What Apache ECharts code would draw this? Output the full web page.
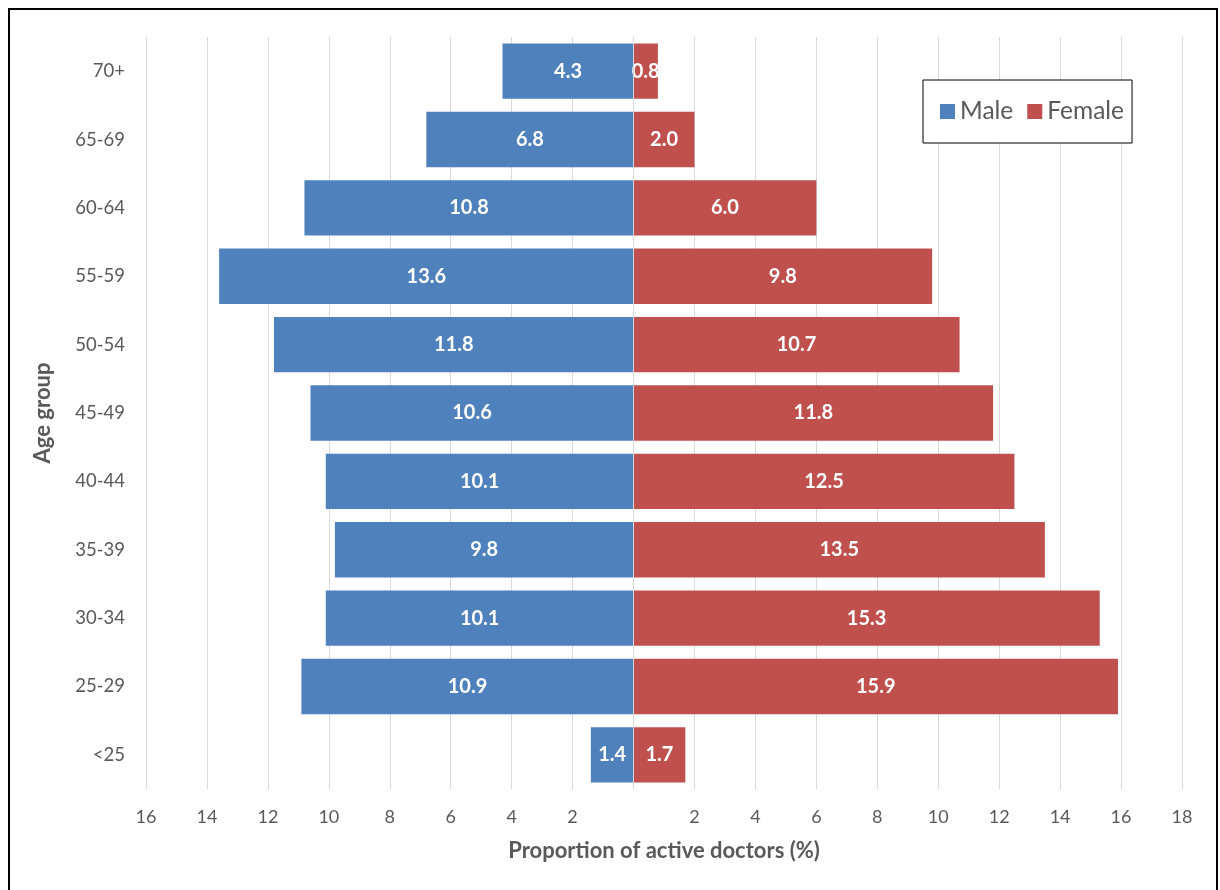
<!DOCTYPE html>
<html>
<head>
<meta charset="utf-8">
<script src="https://cdn.jsdelivr.net/npm/echarts@6/dist/echarts.min.js"></script>
<style>
  html, body { margin: 0; padding: 0; background: #fff; }
  #chart { width: 1220px; height: 890px; }
</style>
</head>
<body>
<div id="chart"></div>
<script>
// age groups, youngest first (bottom of the pyramid)
const ageGroups = ['<25', '25-29', '30-34', '35-39', '40-44', '45-49', '50-54', '55-59', '60-64', '65-69', '70+'];
const maleValues = [1.4, 10.9, 10.1, 9.8, 10.1, 10.6, 11.8, 13.6, 10.8, 6.8, 4.3];
const femaleValues = [1.7, 15.9, 15.3, 13.5, 12.5, 11.8, 10.7, 9.8, 6.0, 2.0, 0.8];

const chart = echarts.init(document.getElementById('chart'));
const fontFamily = 'Lato, "Open Sans", sans-serif';

const barLabel = {
  show: true,
  position: 'inside',
  color: '#fff',
  fontWeight: 'bold',
  fontSize: 20,
  fontFamily: fontFamily,
  formatter: p => Math.abs(p.value).toFixed(1)
};

const option = {
  animation: false,
  textStyle: { fontFamily: fontFamily },
  graphic: [{
    type: 'rect',
    shape: { x: 9, y: 9, width: 1208, height: 900 },
    style: { fill: 'none', stroke: '#000', lineWidth: 2 },
    silent: true
  }],
  legend: {
    left: 923,
    top: 80,
    padding: [19, 8, 19, 17],
    borderColor: '#000',
    borderWidth: 1,
    backgroundColor: '#fff',
    itemWidth: 15,
    itemHeight: 15,
    itemGap: 14,
    icon: 'rect',
    textStyle: { fontSize: 24.5, color: '#595959', fontFamily: fontFamily },
    data: ['Male', 'Female']
  },
  grid: { left: 146, right: 38, top: 37, bottom: 101 },
  xAxis: {
    type: 'value',
    min: -16,
    max: 18,
    interval: 2,
    name: 'Proportion of active doctors (%)',
    nameLocation: 'middle',
    nameGap: 51,
    nameTextStyle: { fontSize: 22, fontWeight: 'bold', color: '#595959', fontFamily: fontFamily },
    axisLine: { show: false },
    axisTick: { show: false },
    axisLabel: {
      margin: 19,
      fontSize: 18,
      color: '#595959',
      formatter: v => (v === 0 ? '' : String(Math.abs(v)))
    },
    splitLine: { lineStyle: { color: '#d9d9d9', width: 1 } }
  },
  yAxis: {
    type: 'category',
    data: ageGroups,
    name: 'Age group',
    nameLocation: 'middle',
    nameRotate: 90,
    nameGap: 92,
    nameTextStyle: { fontSize: 22, fontWeight: 'bold', color: '#595959', fontFamily: fontFamily },
    axisLine: { show: false, onZero: false },
    axisTick: { show: false },
    axisLabel: { margin: 21, fontSize: 18.5, color: '#595959' }
  },
  series: [
    {
      name: 'Male',
      type: 'bar',
      data: maleValues.map(v => -v),
      barCategoryGap: '19%',
      barGap: '-100%',
      itemStyle: { color: '#4f81bd' },
      label: barLabel
    },
    {
      name: 'Female',
      type: 'bar',
      data: femaleValues,
      barCategoryGap: '19%',
      itemStyle: { color: '#c0504d' },
      label: barLabel,
      markLine: {
        silent: true,
        symbol: 'none',
        label: { show: false },
        lineStyle: { color: '#d9d9d9', width: 1, type: 'solid' },
        data: [{ xAxis: 0 }]
      }
    }
  ]
};

chart.setOption(option);
window.addEventListener('resize', () => chart.resize());
</script>
</body>
</html>
